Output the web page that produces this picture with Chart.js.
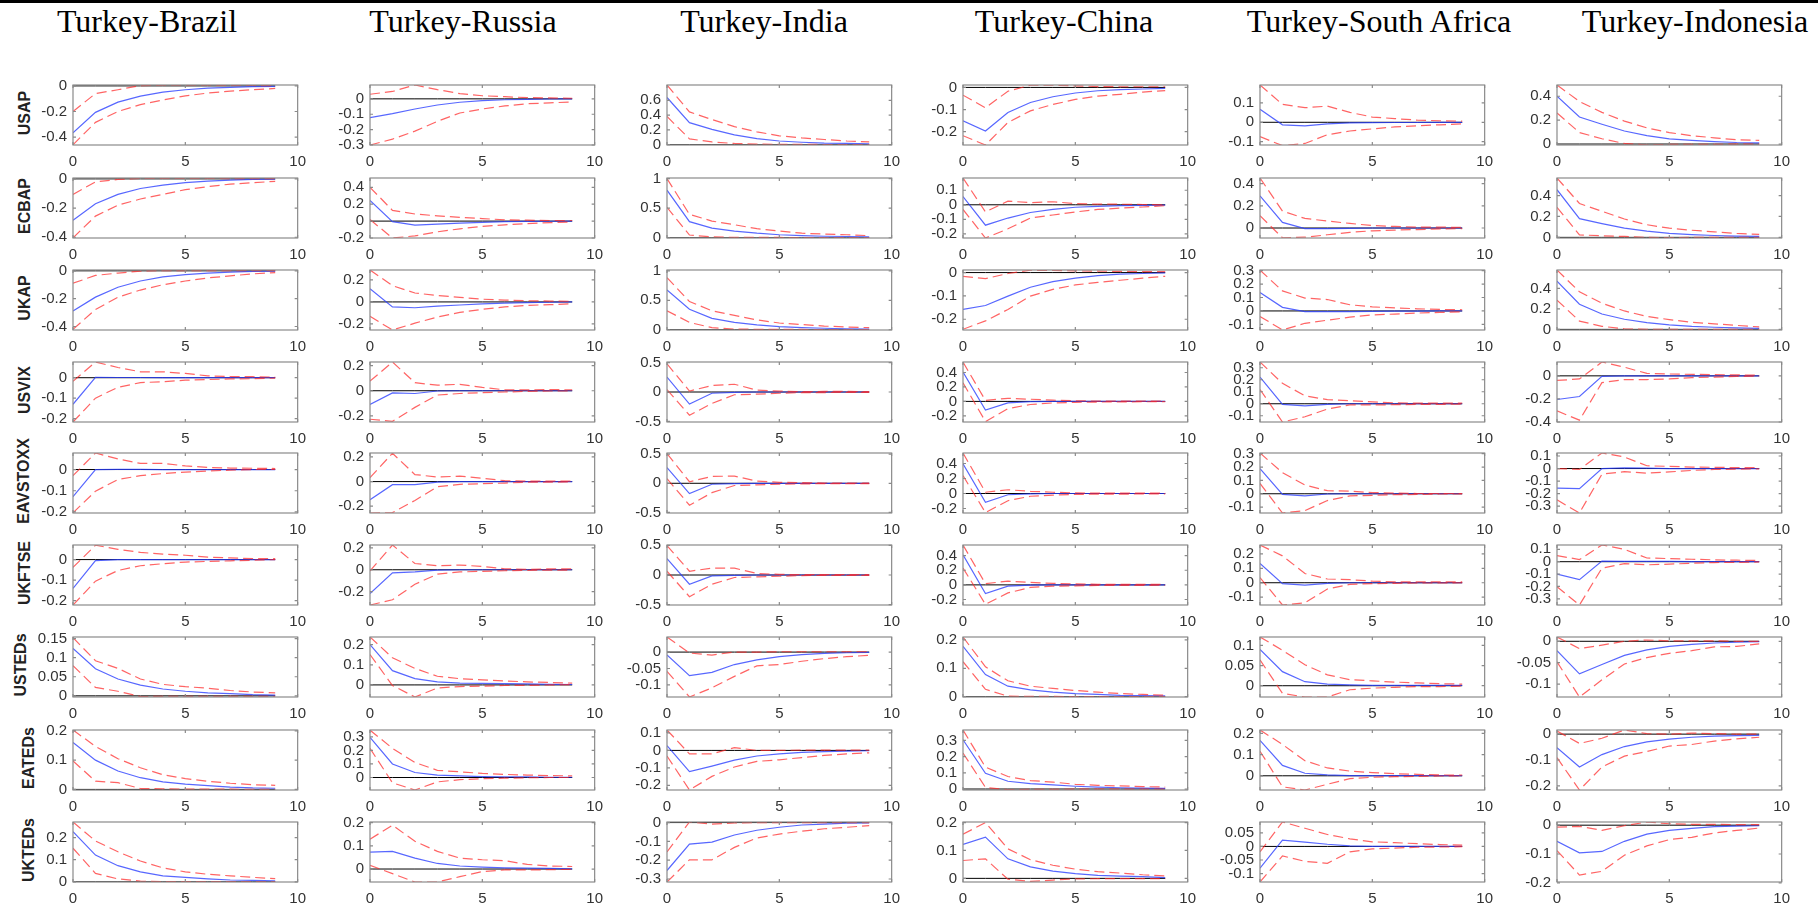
<!DOCTYPE html>
<html>
<head>
<meta charset="utf-8">
<script src="https://cdn.jsdelivr.net/npm/chart.js@4.4.0/dist/chart.umd.min.js"></script>
<style>
  html, body { margin: 0; padding: 0; background: #fff; }
  #page { position: relative; width: 1818px; height: 906px; overflow: hidden; background: #fff; }
  .topbar { position: absolute; left: 0; top: 0; width: 1818px; height: 3px; background: #000; }
  .title { position: absolute; top: 5px; width: 400px; text-align: center; font-family: 'Liberation Serif', 'Times New Roman', serif; font-size: 32px; line-height: 32px; color: #000; white-space: nowrap; }
  .shock { position: absolute; width: 120px; height: 20px; line-height: 20px; text-align: center; font-family: 'Liberation Sans', Arial, sans-serif; font-weight: bold; font-size: 16px; color: #222; transform: rotate(-90deg); white-space: nowrap; }
  canvas { position: absolute; }
</style>
</head>
<body>
<div id="page"><div class="topbar"></div></div>
<script>
const horizons = [0, 1, 2, 3, 4, 5, 6, 7, 8, 9];
const xTicks = [0, 5, 10];
const zeroLine = [0, 0, 0, 0, 0, 0, 0, 0, 0, 0];
const countries = ['Turkey-Brazil', 'Turkey-Russia', 'Turkey-India', 'Turkey-China', 'Turkey-South Africa', 'Turkey-Indonesia'];
const shocks = ['USAP', 'ECBAP', 'UKAP', 'USVIX', 'EAVSTOXX', 'UKFTSE', 'USTEDs', 'EATEDs', 'UKTEDs'];

// Turkey-Brazil
const brazilIrf = [
  [-0.366, -0.207, -0.127, -0.08, -0.049, -0.03, -0.018, -0.011, -0.006, -0.004],
  [-0.283, -0.17, -0.106, -0.066, -0.043, -0.026, -0.015, -0.009, -0.004, -0.002],
  [-0.289, -0.189, -0.118, -0.073, -0.044, -0.027, -0.016, -0.009, -0.004, -0.002],
  [-0.13, 0.002, 0.001, 0.001, 0, 0, 0, 0, 0, 0],
  [-0.128, 0, 0.001, 0.001, 0, 0, 0, 0, 0, 0],
  [-0.14, -0.005, 0, 0, 0, 0, 0, 0, 0, 0],
  [0.124, 0.071, 0.044, 0.028, 0.018, 0.012, 0.008, 0.006, 0.003, 0.002],
  [0.16, 0.1, 0.063, 0.04, 0.026, 0.018, 0.013, 0.008, 0.005, 0.004],
  [0.227, 0.121, 0.073, 0.045, 0.027, 0.02, 0.013, 0.008, 0.006, 0.004]
];
const brazilLow = [
  [-0.46, -0.285, -0.2, -0.146, -0.11, -0.078, -0.056, -0.041, -0.03, -0.02],
  [-0.404, -0.255, -0.18, -0.138, -0.106, -0.074, -0.053, -0.036, -0.026, -0.017],
  [-0.42, -0.278, -0.189, -0.138, -0.1, -0.073, -0.051, -0.036, -0.022, -0.013],
  [-0.217, -0.1, -0.047, -0.024, -0.02, -0.012, -0.009, -0.006, -0.005, -0.002],
  [-0.204, -0.102, -0.047, -0.029, -0.019, -0.012, -0.007, -0.003, 0, 0.001],
  [-0.221, -0.105, -0.053, -0.03, -0.02, -0.012, -0.009, -0.006, -0.003, 0],
  [0.079, 0.022, 0.012, -0.002, -0.001, -0.001, -0.001, -0.001, -0.001, -0.001],
  [0.097, 0.028, 0.023, 0.003, 0.002, 0.001, 0.001, 0.001, 0, 0],
  [0.152, 0.038, 0.013, 0.003, 0.001, 0.001, 0.001, 0.001, 0.001, 0.001]
];
const brazilHigh = [
  [-0.2, -0.06, -0.03, 0.002, 0.006, 0.006, 0.005, 0.004, 0.003, 0.002],
  [-0.106, -0.021, -0.004, 0.003, 0.003, 0.003, 0.003, 0.002, 0.002, 0.002],
  [-0.089, -0.033, -0.016, -0.002, 0.002, 0.002, 0.002, 0.002, 0.002, 0.001],
  [-0.017, 0.077, 0.05, 0.029, 0.029, 0.021, 0.009, 0.006, 0.005, 0.003],
  [-0.029, 0.078, 0.05, 0.029, 0.029, 0.017, 0.01, 0.007, 0.006, 0.005],
  [-0.038, 0.07, 0.05, 0.035, 0.027, 0.021, 0.012, 0.008, 0.005, 0.005],
  [0.152, 0.092, 0.072, 0.044, 0.03, 0.024, 0.02, 0.014, 0.01, 0.008],
  [0.203, 0.147, 0.105, 0.074, 0.05, 0.037, 0.028, 0.021, 0.016, 0.014],
  [0.271, 0.185, 0.136, 0.094, 0.063, 0.045, 0.034, 0.027, 0.02, 0.014]
];
const brazilRange = [[-0.462, 0.007], [-0.405, 0.006], [-0.425, 0.006], [-0.217, 0.077], [-0.205, 0.078], [-0.221, 0.071], [-0.003, 0.154], [-0.002, 0.203], [-0.001, 0.271]];
const brazilTicks = [[-0.4, -0.2, 0], [-0.4, -0.2, 0], [-0.4, -0.2, 0], [-0.2, -0.1, 0], [-0.2, -0.1, 0], [-0.2, -0.1, 0], [0, 0.05, 0.1, 0.15], [0, 0.1, 0.2], [0, 0.1, 0.2]];

// Turkey-Russia
const russiaIrf = [
  [-0.122, -0.096, -0.066, -0.04, -0.022, -0.012, -0.006, -0.003, -0.001, 0],
  [0.244, -0.007, -0.047, -0.036, -0.025, -0.015, -0.007, -0.004, -0.002, 0],
  [0.12, -0.045, -0.053, -0.039, -0.028, -0.017, -0.011, -0.006, -0.003, 0],
  [-0.108, -0.017, -0.022, -0.002, 0, 0, 0, 0, 0, 0],
  [-0.148, -0.025, -0.025, -0.005, 0, 0, 0, 0, 0, 0],
  [-0.218, -0.028, -0.02, -0.003, 0, 0, 0, 0, 0, 0],
  [0.2, 0.071, 0.031, 0.015, 0.009, 0.008, 0.006, 0.005, 0.003, 0.002],
  [0.296, 0.1, 0.037, 0.018, 0.012, 0.007, 0.005, 0.005, 0.002, 0.002],
  [0.073, 0.076, 0.047, 0.024, 0.013, 0.008, 0.005, 0.004, 0.003, 0.001]
];
const russiaLow = [
  [-0.3, -0.262, -0.21, -0.146, -0.092, -0.066, -0.046, -0.032, -0.026, -0.02],
  [0.018, -0.2, -0.175, -0.127, -0.091, -0.062, -0.044, -0.029, -0.018, -0.011],
  [-0.131, -0.255, -0.193, -0.137, -0.095, -0.067, -0.045, -0.031, -0.025, -0.017],
  [-0.226, -0.243, -0.132, -0.034, -0.022, -0.015, -0.01, -0.005, -0.002, -0.002],
  [-0.255, -0.252, -0.153, -0.042, -0.022, -0.017, -0.012, -0.005, -0.005, -0.002],
  [-0.323, -0.275, -0.133, -0.04, -0.02, -0.014, -0.009, -0.006, -0.003, -0.003],
  [0.151, -0.003, -0.06, -0.015, -0.008, -0.006, -0.003, -0.002, 0, 0.002],
  [0.215, -0.039, -0.092, -0.032, -0.016, -0.009, -0.005, -0.002, 0, 0],
  [0.016, -0.02, -0.056, -0.056, -0.033, -0.011, -0.004, -0.004, -0.003, -0.001]
];
const russiaHigh = [
  [0.03, 0.048, 0.09, 0.06, 0.034, 0.02, 0.014, 0.008, 0.006, 0.004],
  [0.4, 0.127, 0.084, 0.062, 0.044, 0.03, 0.015, 0.011, 0.007, 0.007],
  [0.29, 0.148, 0.081, 0.059, 0.042, 0.025, 0.017, 0.011, 0.008, 0.006],
  [0.076, 0.228, 0.064, 0.044, 0.051, 0.027, 0.007, 0.007, 0.01, 0.007],
  [0.032, 0.23, 0.057, 0.037, 0.044, 0.027, 0.007, 0.003, 0.003, 0.003],
  [-0.011, 0.227, 0.057, 0.037, 0.043, 0.031, 0.009, 0.003, 0.009, 0.009],
  [0.238, 0.135, 0.082, 0.043, 0.031, 0.025, 0.02, 0.015, 0.012, 0.009],
  [0.349, 0.215, 0.111, 0.053, 0.042, 0.03, 0.023, 0.018, 0.014, 0.012],
  [0.129, 0.189, 0.12, 0.076, 0.047, 0.04, 0.036, 0.02, 0.013, 0.011]
];
const russiaRange = [[-0.3, 0.09], [-0.2, 0.51], [-0.255, 0.29], [-0.248, 0.228], [-0.255, 0.232], [-0.323, 0.227], [-0.06, 0.238], [-0.092, 0.35], [-0.056, 0.203]];
const russiaTicks = [[-0.3, -0.2, -0.1, 0], [-0.2, 0, 0.2, 0.4], [-0.2, 0, 0.2], [-0.2, 0, 0.2], [-0.2, 0, 0.2], [-0.2, 0, 0.2], [0, 0.1, 0.2], [0, 0.1, 0.2, 0.3], [0, 0.1, 0.2]];

// Turkey-India
const indiaIrf = [
  [0.638, 0.298, 0.207, 0.133, 0.083, 0.05, 0.033, 0.021, 0.017, 0.012],
  [0.805, 0.272, 0.164, 0.113, 0.077, 0.051, 0.036, 0.026, 0.021, 0.015],
  [0.677, 0.349, 0.193, 0.125, 0.083, 0.052, 0.036, 0.026, 0.016, 0.01],
  [0.253, -0.205, -0.021, -0.005, 0, 0, 0, 0, 0, 0],
  [0.269, -0.177, -0.016, -0.005, 0, 0, 0, 0, 0, 0],
  [0.276, -0.156, -0.016, -0.005, 0, 0, 0, 0, 0, 0],
  [-0.009, -0.072, -0.062, -0.038, -0.024, -0.014, -0.008, -0.004, -0.002, -0.001],
  [0.027, -0.122, -0.09, -0.056, -0.032, -0.02, -0.011, -0.007, -0.004, -0.002],
  [-0.255, -0.115, -0.104, -0.066, -0.041, -0.025, -0.013, -0.008, -0.003, -0.002]
];
const indiaLow = [
  [0.381, 0.079, 0.037, 0.017, 0.008, 0.005, 0.004, 0.003, 0.003, 0.003],
  [0.513, 0.046, 0.015, 0.006, 0.005, 0.005, 0.004, 0.004, 0.004, 0.004],
  [0.323, 0.125, 0.036, 0.012, 0.008, 0.006, 0.005, 0.004, 0.003, 0.003],
  [0.042, -0.395, -0.195, -0.047, -0.037, -0.021, -0.01, -0.01, -0.005, -0.005],
  [0.08, -0.376, -0.161, -0.038, -0.027, -0.016, -0.011, -0.005, -0.005, -0.005],
  [0.063, -0.365, -0.156, -0.042, -0.031, -0.021, -0.01, -0.005, -0.005, -0.005],
  [-0.059, -0.137, -0.109, -0.074, -0.042, -0.038, -0.028, -0.02, -0.014, -0.01],
  [-0.032, -0.227, -0.149, -0.095, -0.063, -0.054, -0.041, -0.029, -0.02, -0.014],
  [-0.316, -0.198, -0.198, -0.132, -0.082, -0.061, -0.046, -0.033, -0.025, -0.016]
];
const indiaHigh = [
  [0.807, 0.443, 0.34, 0.244, 0.174, 0.12, 0.091, 0.07, 0.05, 0.037],
  [1.0, 0.395, 0.282, 0.22, 0.154, 0.113, 0.077, 0.062, 0.051, 0.036],
  [0.885, 0.479, 0.323, 0.245, 0.167, 0.115, 0.089, 0.063, 0.047, 0.036],
  [0.479, 0.016, 0.11, 0.132, 0.032, 0.016, 0.005, 0.01, 0.01, 0.005],
  [0.51, 0.027, 0.118, 0.124, 0.038, 0.016, 0.011, 0.005, 0.005, 0.005],
  [0.495, 0.063, 0.115, 0.115, 0.026, 0.01, 0.005, 0.005, 0.005, 0.005],
  [0.046, -0.003, -0.009, 0, 0, 0.001, 0.001, 0.001, 0.001, 0.001],
  [0.117, -0.02, -0.02, 0.016, 0, 0, 0.002, 0.002, 0.002, 0.002],
  [-0.156, 0.003, -0.008, -0.002, 0, 0, 0, 0, 0, 0]
];
const indiaRange = [[-0.004, 0.807], [-0.004, 1.01], [-0.004, 1.015], [-0.51, 0.51], [-0.51, 0.52], [-0.505, 0.505], [-0.137, 0.046], [-0.227, 0.117], [-0.316, 0.003]];
const indiaTicks = [[0, 0.2, 0.4, 0.6], [0, 0.5, 1], [0, 0.5, 1], [-0.5, 0, 0.5], [-0.5, 0, 0.5], [-0.5, 0, 0.5], [-0.1, -0.05, 0], [-0.2, -0.1, 0, 0.1], [-0.3, -0.2, -0.1, 0]];

// Turkey-China
const chinaIrf = [
  [-0.151, -0.197, -0.113, -0.068, -0.042, -0.025, -0.015, -0.01, -0.007, -0.004],
  [0.057, -0.14, -0.091, -0.053, -0.032, -0.017, -0.011, -0.006, -0.004, -0.002],
  [-0.158, -0.141, -0.101, -0.063, -0.039, -0.024, -0.013, -0.007, -0.004, -0.001],
  [0.407, -0.12, -0.021, -0.004, 0, 0, 0, 0, 0, 0],
  [0.396, -0.117, -0.017, -0.004, 0, 0, 0, 0, 0, 0],
  [0.41, -0.118, -0.017, -0.004, 0, 0, 0, 0, 0, 0],
  [0.177, 0.078, 0.037, 0.024, 0.016, 0.011, 0.008, 0.005, 0.004, 0.003],
  [0.304, 0.097, 0.048, 0.033, 0.025, 0.017, 0.012, 0.008, 0.006, 0.004],
  [0.122, 0.148, 0.07, 0.041, 0.026, 0.017, 0.011, 0.008, 0.006, 0.003]
];
const chinaLow = [
  [-0.218, -0.26, -0.158, -0.106, -0.077, -0.054, -0.039, -0.031, -0.021, -0.014],
  [-0.032, -0.228, -0.165, -0.091, -0.07, -0.049, -0.032, -0.023, -0.015, -0.006],
  [-0.243, -0.207, -0.158, -0.101, -0.072, -0.053, -0.042, -0.033, -0.024, -0.016],
  [0.257, -0.279, -0.099, -0.043, -0.021, -0.013, -0.009, -0.006, -0.005, -0.004],
  [0.238, -0.254, -0.096, -0.037, -0.021, -0.013, -0.008, -0.008, -0.006, -0.005],
  [0.23, -0.266, -0.11, -0.034, -0.017, -0.013, -0.008, -0.008, -0.006, -0.005],
  [0.123, 0.026, 0.002, 0.001, 0.001, 0, 0, 0, 0, 0],
  [0.222, 0.01, -0.004, -0.002, -0.002, -0.001, -0.001, 0, 0, 0],
  [0.064, 0.07, -0.003, -0.011, -0.006, -0.002, -0.001, -0.001, -0.001, -0.001]
];
const chinaHigh = [
  [-0.035, -0.092, -0.017, 0.01, 0.01, 0.007, 0.004, 0.003, 0.003, 0.003],
  [0.184, -0.049, 0.025, 0.015, 0.021, 0.008, 0.004, 0.004, 0.002, 0],
  [-0.016, -0.026, -0.004, 0.01, 0.009, 0.007, 0.006, 0.005, 0.004, 0.004],
  [0.544, 0.013, 0.043, 0.03, 0.017, 0.009, 0.004, 0.004, 0.004, 0.004],
  [0.54, 0.017, 0.05, 0.029, 0.017, 0.008, 0.004, 0.004, 0.004, 0.004],
  [0.545, 0.017, 0.051, 0.034, 0.021, 0.013, 0.008, 0.008, 0.008, 0.008],
  [0.21, 0.105, 0.056, 0.037, 0.029, 0.022, 0.016, 0.011, 0.008, 0.005],
  [0.364, 0.135, 0.077, 0.052, 0.043, 0.029, 0.023, 0.019, 0.015, 0.012],
  [0.158, 0.2, 0.106, 0.067, 0.047, 0.033, 0.024, 0.019, 0.013, 0.009]
];
const chinaRange = [[-0.26, 0.011], [-0.228, 0.184], [-0.246, 0.011], [-0.285, 0.545], [-0.26, 0.54], [-0.275, 0.545], [-0.001, 0.21], [-0.006, 0.364], [-0.013, 0.202]];
const chinaTicks = [[-0.2, -0.1, 0], [-0.2, -0.1, 0, 0.1], [-0.2, -0.1, 0], [-0.2, 0, 0.2, 0.4], [-0.2, 0, 0.2, 0.4], [-0.2, 0, 0.2, 0.4], [0, 0.1, 0.2], [0, 0.1, 0.2, 0.3], [0, 0.1, 0.2]];

// Turkey-South Africa
const safricaIrf = [
  [0.067, -0.013, -0.018, -0.008, -0.003, -0.002, -0.001, -0.001, 0, 0],
  [0.29, 0.05, -0.006, -0.006, -0.003, 0, 0, 0, 0, 0],
  [0.137, 0.027, -0.005, -0.005, -0.005, -0.003, -0.002, -0.001, 0, 0],
  [0.222, -0.005, -0.018, -0.005, 0, 0, 0, 0, 0, 0],
  [0.188, -0.005, -0.016, -0.002, 0, 0, 0, 0, 0, 0],
  [0.133, -0.006, -0.017, -0.004, 0, 0, 0, 0, 0, 0],
  [0.09, 0.035, 0.01, 0.004, 0.002, 0.001, 0.001, 0.001, 0.001, 0.001],
  [0.167, 0.049, 0.012, 0.004, 0.001, 0.001, 0.001, 0.001, 0.001, 0.001],
  [-0.08, 0.023, 0.016, 0.008, 0.002, 0, 0, 0, 0, 0]
];
const safricaLow = [
  [-0.074, -0.12, -0.109, -0.064, -0.045, -0.034, -0.024, -0.018, -0.013, -0.008],
  [0.11, -0.088, -0.083, -0.061, -0.039, -0.025, -0.019, -0.014, -0.008, -0.006],
  [-0.041, -0.142, -0.092, -0.069, -0.046, -0.03, -0.023, -0.016, -0.011, -0.007],
  [0.119, -0.152, -0.108, -0.044, -0.01, -0.01, -0.008, -0.005, -0.005, -0.003],
  [0.077, -0.144, -0.126, -0.051, -0.016, -0.012, -0.007, -0.005, -0.002, -0.002],
  [0.036, -0.154, -0.139, -0.043, -0.011, -0.006, -0.004, -0.002, -0.002, 0],
  [0.064, -0.019, -0.028, -0.028, -0.01, -0.006, -0.004, -0.002, -0.002, -0.001],
  [0.116, -0.052, -0.067, -0.04, -0.013, -0.007, -0.004, -0.003, -0.001, -0.001],
  [-0.131, -0.035, -0.055, -0.062, -0.02, -0.009, -0.006, -0.003, -0.002, -0.001]
];
const safricaHigh = [
  [0.192, 0.092, 0.075, 0.083, 0.051, 0.027, 0.019, 0.011, 0.008, 0.006],
  [0.45, 0.152, 0.086, 0.063, 0.041, 0.022, 0.014, 0.008, 0.008, 0.005],
  [0.304, 0.149, 0.096, 0.085, 0.046, 0.03, 0.023, 0.016, 0.011, 0.009],
  [0.348, 0.17, 0.067, 0.034, 0.026, 0.015, 0.008, 0.005, 0.005, 0.005],
  [0.305, 0.158, 0.065, 0.023, 0.019, 0.009, 0.005, 0.002, 0.002, 0.002],
  [0.261, 0.186, 0.064, 0.026, 0.021, 0.011, 0.006, 0.006, 0.006, 0.006],
  [0.121, 0.088, 0.052, 0.027, 0.015, 0.012, 0.009, 0.007, 0.005, 0.004],
  [0.216, 0.148, 0.071, 0.037, 0.022, 0.015, 0.01, 0.007, 0.004, 0.003],
  [-0.02, 0.09, 0.067, 0.044, 0.028, 0.017, 0.014, 0.01, 0.007, 0.005]
];
const safricaRange = [[-0.117, 0.192], [-0.09, 0.45], [-0.142, 0.305], [-0.152, 0.348], [-0.144, 0.305], [-0.154, 0.261], [-0.028, 0.121], [-0.067, 0.216], [-0.131, 0.09]];
const safricaTicks = [[-0.1, 0, 0.1], [0, 0.2, 0.4], [-0.1, 0, 0.1, 0.2, 0.3], [-0.1, 0, 0.1, 0.2, 0.3], [-0.1, 0, 0.1, 0.2, 0.3], [-0.1, 0, 0.1, 0.2], [0, 0.05, 0.1], [0, 0.1, 0.2], [-0.1, -0.05, 0, 0.05]];

// Turkey-Indonesia
const indonesiaIrf = [
  [0.4, 0.226, 0.166, 0.109, 0.07, 0.044, 0.031, 0.021, 0.013, 0.01],
  [0.456, 0.179, 0.132, 0.088, 0.059, 0.038, 0.026, 0.018, 0.012, 0.009],
  [0.472, 0.246, 0.15, 0.099, 0.066, 0.045, 0.03, 0.021, 0.015, 0.009],
  [-0.205, -0.179, -0.005, 0, 0, 0, 0, 0, 0, 0],
  [-0.156, -0.161, 0, 0.005, 0.003, 0, 0, 0, 0, 0],
  [-0.1, -0.145, 0.005, 0.003, 0.003, 0.002, 0.001, 0, 0, 0],
  [-0.022, -0.076, -0.054, -0.033, -0.02, -0.012, -0.007, -0.004, -0.002, -0.001],
  [-0.052, -0.127, -0.079, -0.048, -0.03, -0.019, -0.012, -0.008, -0.006, -0.005],
  [-0.056, -0.096, -0.091, -0.056, -0.031, -0.018, -0.011, -0.005, -0.003, -0.002]
];
const indonesiaLow = [
  [0.26, 0.096, 0.044, 0.005, -0.008, -0.003, -0.002, -0.002, -0.001, -0.001],
  [0.288, 0.024, 0.015, 0.009, 0, -0.003, 0, 0, 0, 0],
  [0.286, 0.081, 0.03, 0.006, 0, 0, 0, 0, 0, 0],
  [-0.304, -0.384, -0.059, -0.032, -0.032, -0.027, -0.016, -0.011, -0.005, -0.003],
  [-0.25, -0.355, -0.045, -0.025, -0.037, -0.027, -0.015, -0.007, -0.005, -0.002],
  [-0.202, -0.35, -0.052, -0.015, -0.025, -0.02, -0.012, -0.007, -0.005, -0.002],
  [-0.048, -0.13, -0.09, -0.053, -0.038, -0.028, -0.022, -0.013, -0.012, -0.006],
  [-0.091, -0.216, -0.127, -0.085, -0.067, -0.046, -0.04, -0.027, -0.018, -0.012],
  [-0.088, -0.173, -0.16, -0.104, -0.072, -0.05, -0.042, -0.027, -0.018, -0.01]
];
const indonesiaHigh = [
  [0.494, 0.356, 0.265, 0.192, 0.135, 0.096, 0.07, 0.052, 0.036, 0.031],
  [0.568, 0.324, 0.25, 0.176, 0.121, 0.088, 0.068, 0.053, 0.038, 0.029],
  [0.58, 0.367, 0.256, 0.18, 0.126, 0.096, 0.069, 0.054, 0.039, 0.024],
  [-0.04, -0.027, 0.12, 0.075, 0.021, 0.016, 0.013, 0.011, 0.008, 0.005],
  [0, -0.007, 0.124, 0.092, 0.022, 0.017, 0.012, 0.01, 0.007, 0.007],
  [0.05, 0.017, 0.135, 0.1, 0.03, 0.025, 0.02, 0.015, 0.012, 0.01],
  [0.01, -0.017, -0.009, 0, 0.003, 0.001, 0.001, 0.001, 0, 0],
  [0.012, -0.036, -0.016, 0.016, 0.002, 0, 0.004, 0.002, 0, 0],
  [-0.007, -0.004, -0.018, -0.002, 0.011, 0.005, 0.003, 0.003, 0.002, 0.002]
];
const indonesiaRange = [[-0.008, 0.494], [-0.006, 0.568], [-0.006, 0.58], [-0.4, 0.12], [-0.355, 0.124], [-0.35, 0.135], [-0.13, 0.01], [-0.216, 0.016], [-0.197, 0.011]];
const indonesiaTicks = [[0, 0.2, 0.4], [0, 0.2, 0.4], [0, 0.2, 0.4], [-0.4, -0.2, 0], [-0.3, -0.2, -0.1, 0, 0.1], [-0.3, -0.2, -0.1, 0, 0.1], [-0.1, -0.05, 0], [-0.2, -0.1, 0], [-0.2, -0.1, 0]];

const irfs = [brazilIrf, russiaIrf, indiaIrf, chinaIrf, safricaIrf, indonesiaIrf];
const lows = [brazilLow, russiaLow, indiaLow, chinaLow, safricaLow, indonesiaLow];
const highs = [brazilHigh, russiaHigh, indiaHigh, chinaHigh, safricaHigh, indonesiaHigh];
const ranges = [brazilRange, russiaRange, indiaRange, chinaRange, safricaRange, indonesiaRange];
const yTicks = [brazilTicks, russiaTicks, indiaTicks, chinaTicks, safricaTicks, indonesiaTicks];

// layout of the 6 x 9 panel grid (page pixels)
const colLeft = [73, 370, 667, 963, 1260, 1557];
const rowTop = [81, 174, 266, 358, 449, 541, 633, 726, 818];
const titleCenter = [147, 463, 764, 1064, 1379, 1695];
const labelX = [25, 25, 25, 25, 24, 25, 21, 29, 29];
const plotW = 226, plotH = 64;
const padL = 70, padT = 11, padR = 15, padB = 26;

const RED = 'rgba(255, 40, 40, 0.72)';
const BLUE = 'rgba(40, 60, 255, 0.78)';
const AXIS = '#8a8a8a';

Chart.defaults.font.family = "'Liberation Sans', Arial, sans-serif";
Chart.defaults.font.size = 15;
Chart.defaults.color = '#333';

// MATLAB style box with inward tick marks
const boxPlugin = {
  id: 'matlabBox',
  afterDraw(chart) {
    const { ctx, chartArea: a, scales } = chart;
    ctx.save();
    ctx.strokeStyle = AXIS;
    ctx.lineWidth = 1.2;
    ctx.strokeRect(a.left, a.top, a.right - a.left, a.bottom - a.top);
    ctx.beginPath();
    scales.y.ticks.forEach(t => {
      const y = scales.y.getPixelForValue(t.value);
      ctx.moveTo(a.left, y); ctx.lineTo(a.left + 3, y);
      ctx.moveTo(a.right, y); ctx.lineTo(a.right - 3, y);
    });
    scales.x.ticks.forEach(t => {
      const x = scales.x.getPixelForValue(t.value);
      ctx.moveTo(x, a.top); ctx.lineTo(x, a.top + 3);
      ctx.moveTo(x, a.bottom); ctx.lineTo(x, a.bottom - 3);
    });
    ctx.stroke();
    ctx.restore();
  }
};

const page = document.getElementById('page');

countries.forEach((name, c) => {
  const t = document.createElement('div');
  t.className = 'title';
  t.textContent = name;
  t.style.left = (titleCenter[c] - 200) + 'px';
  page.appendChild(t);
});

shocks.forEach((name, r) => {
  const s = document.createElement('div');
  s.className = 'shock';
  s.textContent = name;
  s.style.left = (labelX[r] - 60) + 'px';
  s.style.top = (rowTop[r] + plotH / 2 - 10) + 'px';
  page.appendChild(s);
});

const toPoints = arr => horizons.map((h, i) => ({ x: h, y: arr[i] }));

function drawPanel(c, r) {
  const canvas = document.createElement('canvas');
  canvas.width = plotW + padL + padR;
  canvas.height = plotH + padT + padB;
  canvas.style.left = (colLeft[c] - padL) + 'px';
  canvas.style.top = (rowTop[r] - padT) + 'px';
  page.appendChild(canvas);

  const [yMin, yMax] = ranges[c][r];
  const ticks = yTicks[c][r];

  new Chart(canvas, {
    type: 'line',
    data: {
      datasets: [
        { data: toPoints(highs[c][r]), borderColor: RED, borderDash: [10, 5], borderWidth: 1.2, order: 1 },
        { data: toPoints(lows[c][r]), borderColor: RED, borderDash: [10, 5], borderWidth: 1.2, order: 1 },
        { data: toPoints(irfs[c][r]), borderColor: BLUE, borderWidth: 1.2, order: 2 },
        { data: toPoints(zeroLine), borderColor: '#000', borderWidth: 1, order: 3 }
      ]
    },
    options: {
      responsive: false,
      animation: false,
      devicePixelRatio: 1,
      layout: { padding: { top: padT, right: padR, left: 0, bottom: 0 } },
      plugins: { legend: { display: false }, tooltip: { enabled: false } },
      elements: { point: { radius: 0 }, line: { tension: 0 } },
      scales: {
        x: {
          type: 'linear', min: 0, max: 10,
          grid: { display: false, drawTicks: false }, border: { display: false },
          ticks: { padding: 8, autoSkip: false, maxRotation: 0 },
          afterBuildTicks: s => { s.ticks = xTicks.map(v => ({ value: v })); },
          afterFit: s => { s.height = padB; }
        },
        y: {
          type: 'linear', min: yMin, max: yMax,
          grid: { display: false, drawTicks: false }, border: { display: false },
          ticks: { padding: 6, autoSkip: false, callback: v => String(v) },
          afterBuildTicks: s => { s.ticks = ticks.map(v => ({ value: v })); },
          afterFit: s => { s.width = padL; }
        }
      }
    },
    plugins: [boxPlugin]
  });
}

for (let c = 0; c < countries.length; c++) {
  for (let r = 0; r < shocks.length; r++) drawPanel(c, r);
}
</script>
</body>
</html>
